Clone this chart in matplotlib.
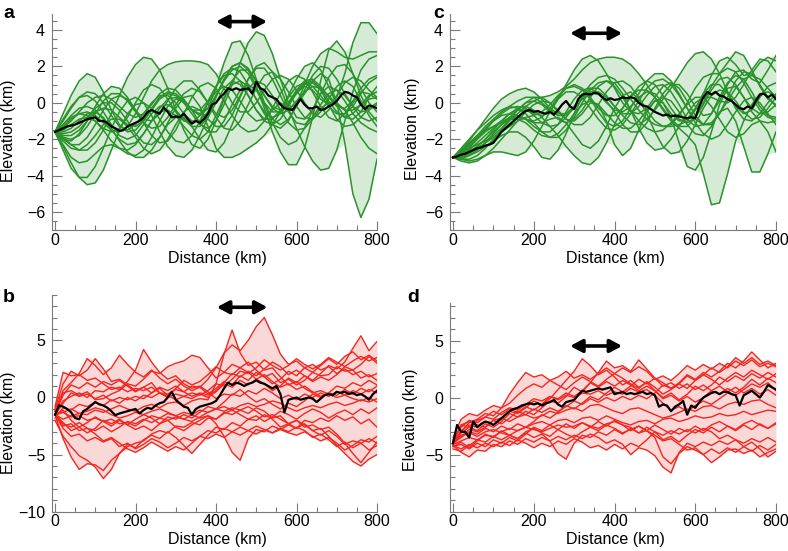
import numpy as np
import matplotlib
matplotlib.use("Agg")
import matplotlib.pyplot as plt
from matplotlib.ticker import MultipleLocator

plt.rcParams['font.family'] = ['Liberation Sans', 'DejaVu Sans']

# distance grids (km)
dist = np.arange(0, 801, 20)
dist_mean = np.arange(0, 801, 10)

# ---- panel a : smooth realisations (green) ----
green_a = [
    [-1.6, -0.6, 0.4, 1.2, 1.6, 1.4, 0.6, -0.4, -1.2, -1.6, -1.5, -1.0, -0.3, 0.3, 0.6, 0.5, 0.1, -0.4, -0.6, -0.3, 0.4, 1.2, 1.8, 2.0, 1.6, 0.8, 0.0, -0.5, -0.5, 0.0, 0.7, 1.2, 1.3, 0.9, 0.3, -0.2, -0.3, 0.1, 0.8, 1.3, 1.5],
    [-1.6, -2.4, -3.3, -4.1, -4.5, -4.4, -3.7, -2.6, -1.5, -0.6, -0.1, 0.0, -0.3, -0.9, -1.6, -2.1, -2.2, -1.8, -1.0, 0.0, 0.9, 1.5, 1.6, 1.2, 0.4, -0.4, -1.0, -1.2, -0.9, -0.2, 0.6, 1.1, 1.2, 0.8, 0.1, -0.5, -0.8, -0.6, -0.1, 0.4, 0.6],
    [-1.6, -2.6, -3.6, -4.1, -4.1, -3.5, -2.5, -1.4, -0.5, 0.1, 0.3, 0.0, -0.7, -1.6, -2.4, -2.9, -3.0, -2.6, -1.8, -0.8, 0.3, 1.3, 2.0, 2.2, 1.9, 1.2, 0.4, -0.2, -0.4, -0.1, 0.5, 1.0, 1.1, 0.7, -0.1, -0.9, -1.3, -1.2, -0.8, -0.3, 0.0],
    [-1.6, -1.9, -2.3, -2.6, -2.6, -2.2, -1.5, -0.6, 0.4, 1.4, 2.1, 2.5, 2.4, 1.8, 0.8, -0.4, -1.5, -2.3, -2.5, -2.0, -1.0, 0.2, 1.2, 1.8, 1.8, 1.2, 0.4, -0.3, -0.6, -0.4, 0.1, 0.6, 0.9, 0.8, 0.4, -0.1, -0.4, -0.4, -0.1, 0.2, 0.3],
    [-1.6, -1.3, -0.9, -0.6, -0.5, -0.7, -1.1, -1.5, -1.6, -1.3, -0.6, 0.3, 1.2, 1.8, 2.1, 2.25, 2.3, 2.3, 2.25, 2.1, 1.6, 0.8, 0.0, -0.5, -0.5, 0.0, 0.7, 1.3, 1.5, 1.3, 0.7, 0.0, -0.6, -0.8, -0.4, 0.4, 1.1, 1.4, 1.2, 0.7, 0.3],
    [-1.6, -1.7, -1.6, -1.3, -0.8, -0.3, 0.0, 0.0, -0.4, -1.0, -1.7, -2.2, -2.3, -1.9, -1.1, -0.3, 0.3, 0.4, -0.2, -1.3, -2.5, -3.0, -3.0, -2.8, -2.5, -2.2, -1.8, -1.2, -0.5, 0.3, 0.9, 1.1, 0.9, 0.4, -0.2, -0.6, -0.6, -0.2, 0.5, 1.1, 1.4],
    [-1.6, -1.2, -0.7, -0.3, -0.2, -0.4, -0.9, -1.5, -2.0, -2.3, -2.2, -1.7, -1.0, -0.3, 0.2, 0.3, 0.0, -0.6, -1.2, -1.4, -1.0, -0.1, 1.0, 2.2, 3.3, 3.9, 3.7, 2.7, 1.3, 0.0, -0.8, -0.9, -0.4, 0.5, 1.4, 2.0, 2.1, 1.6, 0.8, 0.0, -0.5],
    [-1.6, -1.4, -1.0, -0.5, 0.0, 0.3, 0.4, 0.2, -0.2, -0.6, -0.8, -0.6, -0.1, 0.5, 0.8, 0.7, 0.2, -0.4, -0.7, -0.3, 0.8, 2.2, 3.3, 3.4, 2.6, 1.3, 0.0, -0.9, -1.2, -0.9, -0.2, 0.7, 1.5, 2.0, 1.9, 1.3, 0.5, -0.2, -0.5, -0.4, -0.1],
    [-1.6, -2.0, -2.3, -2.3, -1.9, -1.2, -0.4, 0.2, 0.4, 0.2, -0.4, -1.1, -1.8, -2.2, -2.1, -1.5, -0.6, 0.3, 0.9, 1.1, 0.8, 0.1, -0.7, -1.3, -1.6, -1.5, -1.0, -0.4, 0.0, -0.3, -0.1, 0.5, 1.2, 1.6, 1.3, 0.0, -2.2, -5.0, -6.3, -5.3, -3.1],
    [-1.6, -1.8, -1.8, -1.5, -1.0, -0.5, -0.3, -0.4, -0.8, -1.2, -1.3, -1.0, -0.4, 0.2, 0.5, 0.4, 0.0, -0.4, -0.4, 0.1, 0.9, 1.6, 1.9, 1.7, 1.0, 0.2, -0.5, -0.8, -0.6, 0.0, 0.6, 0.9, 0.7, 0.2, -0.1, 0.3, 1.6, 3.3, 4.4, 4.4, 3.8],
    [-1.6, -1.0, -0.3, 0.3, 0.6, 0.5, 0.0, -0.7, -1.3, -1.5, -1.2, -0.6, 0.0, 0.4, 0.4, 0.0, -0.6, -1.0, -1.0, -0.5, 0.4, 1.3, 2.0, 2.2, 1.8, 0.9, -0.3, -1.6, -2.7, -3.4, -3.4, -2.5, -0.8, 1.2, 2.9, 3.4, 2.8, 1.6, 0.4, -0.5, -1.0],
    [-1.6, -2.1, -2.5, -2.6, -2.3, -1.8, -1.2, -0.9, -0.9, -1.3, -1.9, -2.5, -2.8, -2.6, -2.0, -1.2, -0.5, -0.2, -0.4, -0.9, -1.3, -1.3, -0.7, 0.3, 1.3, 2.0, 2.2, 1.7, 0.8, -0.3, -1.4, -2.4, -3.2, -3.7, -3.6, -2.6, -1.0, 0.6, 1.8, 2.4, 2.6],
    [-1.6, -1.5, -1.2, -0.9, -0.8, -1.0, -1.5, -2.1, -2.5, -2.6, -2.3, -1.7, -1.0, -0.5, -0.4, -0.7, -1.3, -1.8, -2.0, -1.6, -0.7, 0.3, 1.0, 1.2, 0.9, 0.2, -0.6, -1.2, -1.4, -1.0, -0.1, 1.0, 2.0, 2.7, 3.0, 2.8, 2.5, 2.4, 2.6, 2.8, 2.8],
    [-1.6, -1.9, -2.0, -1.8, -1.3, -0.6, 0.1, 0.5, 0.5, 0.1, -0.5, -1.1, -1.4, -1.3, -0.8, -0.1, 0.5, 0.8, 0.6, 0.0, -0.8, -1.4, -1.5, -1.0, -0.1, 0.8, 1.5, 1.7, 1.3, 0.6, -0.2, -0.8, -0.9, -0.5, 0.2, 0.9, 1.2, 0.9, 0.1, -0.7, -1.3],
    [-1.6, -2.3, -3.0, -3.3, -3.2, -2.8, -2.4, -2.3, -2.5, -2.8, -2.9, -2.6, -1.9, -1.0, -0.2, 0.2, 0.1, -0.4, -1.1, -1.6, -1.6, -1.0, -0.1, 0.7, 1.0, 0.7, -0.1, -1.1, -1.9, -2.3, -2.1, -1.4, -0.4, 0.5, 0.9, 0.7, 0.1, -0.6, -1.1, -1.4, -1.6],
    [-1.6, -0.9, -0.2, 0.3, 0.4, 0.1, -0.5, -1.2, -1.8, -2.0, -1.8, -1.2, -0.6, -0.2, -0.1, -0.4, -0.9, -1.3, -1.3, -0.8, 0.0, 0.8, 1.2, 1.0, 0.4, -0.4, -0.9, -0.9, -0.4, 0.4, 1.3, 2.0, 2.2, 1.8, 0.9, -0.1, -0.8, -0.9, -0.5, 0.3, 0.9],
    [-1.6, -1.6, -1.4, -1.0, -0.6, -0.5, -0.8, -1.4, -2.1, -2.7, -3.0, -3.0, -2.6, -1.9, -1.2, -0.8, -0.8, -1.3, -2.0, -2.6, -2.7, -2.2, -1.2, -0.1, 0.8, 1.2, 1.0, 0.4, -0.4, -1.1, -1.5, -1.4, -0.9, -0.3, 0.0, 0.0, -0.4, -1.1, -1.9, -2.5, -2.8],
    [-1.6, -1.2, -0.8, -0.6, -0.7, -1.0, -1.4, -1.6, -1.4, -0.8, 0.0, 0.7, 1.0, 0.8, 0.2, -0.5, -1.0, -1.1, -0.7, 0.0, 0.6, 0.9, 0.7, 0.1, -0.6, -1.0, -0.9, -0.3, 0.5, 1.2, 1.5, 1.3, 0.6, -0.2, -0.8, -1.0, -0.6, 0.0, 0.6, 0.5, 0.2],
    [-1.6, -2.0, -2.1, -1.7, -1.0, -0.2, 0.5, 0.9, 0.8, 0.3, -0.4, -0.9, -1.0, -0.6, 0.1, 0.8, 1.2, 1.2, 0.7, 0.0, -0.6, -0.8, -0.4, 0.4, 1.3, 1.9, 1.9, 1.3, 0.4, -0.5, -1.1, -1.2, -0.8, -0.1, 0.5, 0.7, 0.4, -0.2, -0.8, -1.0, -0.8],
]
mean_a = [-1.6, -1.5, -1.4, -1.3, -1.25, -1.2, -1.1, -1.0, -0.9, -0.85, -0.8, -1.0, -1.0, -1.1, -1.3, -1.4, -1.55, -1.5, -1.3, -1.2,
          -1.1, -1.0, -0.8, -0.5, -0.4, -0.5, -0.6, -0.25, -0.5, -0.8, -0.75, -0.8, -0.6, -0.9, -1.15, -1.0, -1.1, -0.9, -0.6, -0.1,
          0.0, 0.3, 0.5, 0.8, 0.7, 0.8, 0.7, 0.75, 0.8, 0.5, 1.15, 0.8, 0.7, 0.4, 0.3, 0.2, -0.1, -0.3, -0.35, -0.4,
          -0.1, 0.2, -0.1, -0.3, -0.3, -0.2, -0.4, -0.35, -0.2, -0.1, 0.1, 0.4, 0.6, 0.55, 0.4, 0.3, -0.1, -0.35, -0.15, -0.2, -0.3]

# ---- panel c : smooth realisations (green) ----
green_c = [
    [-3.0, -2.9, -2.7, -2.4, -2.0, -1.5, -1.0, -0.6, -0.4, -0.4, -0.6, -0.7, -0.5, 0.2, 1.0, 1.8, 2.4, 2.6, 2.3, 1.6, 0.8, 0.0, -0.5, -0.6, -0.3, 0.3, 0.9, 1.1, 0.8, 0.1, -0.7, -1.2, -1.2, -0.6, 0.3, 1.2, 1.7, 1.6, 1.0, 0.3, -0.2],
    [-3.0, -3.1, -3.1, -2.9, -2.5, -2.0, -1.5, -1.0, -0.6, -0.2, 0.1, 0.3, 0.4, 0.6, 0.9, 1.3, 1.8, 2.2, 2.4, 2.5, 2.5, 2.4, 2.1, 1.6, 1.0, 0.3, -0.4, -1.0, -1.4, -1.8, -2.3, -3.9, -5.6, -5.5, -3.9, -2.1, -1.0, -0.1, 0.5, 0.6, 0.4],
    [-3.0, -2.8, -2.5, -2.0, -1.5, -1.0, -0.6, -0.3, -0.2, -0.3, -0.7, -1.1, -1.3, -1.2, -0.8, -0.2, 0.3, 0.6, 0.6, 0.3, -0.2, -0.7, -1.1, -1.2, -0.9, -0.4, 0.2, 0.8, 1.5, 2.2, 2.7, 2.8, 2.4, 1.6, 0.6, -0.3, -0.9, -1.0, -0.6, 0.0, 0.5],
    [-3.0, -3.2, -3.3, -3.2, -2.9, -2.5, -2.0, -1.5, -1.0, -0.5, -0.1, 0.1, 0.0, -0.4, -0.9, -1.2, -1.2, -0.8, -0.1, 0.6, 1.1, 1.2, 0.9, 0.3, -0.4, -1.0, -1.3, -1.2, -0.7, 0.0, 0.8, 1.4, 1.6, 1.6, 2.2, 2.8, 2.6, 1.8, 0.9, 0.2, -0.1],
    [-3.0, -2.7, -2.3, -1.8, -1.3, -0.9, -0.5, -0.2, 0.1, 0.3, 0.3, 0.0, -0.4, -0.7, -0.7, -0.3, 0.2, 0.5, 0.5, 0.1, -0.5, -1.2, -1.6, -1.6, -1.1, -0.3, 0.5, 1.0, 1.0, 0.5, -0.2, -0.7, -0.6, 0.1, 1.0, 1.7, 1.8, 1.3, 1.1, 1.8, 2.6],
    [-3.0, -3.0, -2.9, -2.7, -2.4, -2.1, -1.8, -1.6, -1.6, -1.9, -2.4, -3.0, -3.1, -2.6, -1.7, -0.6, 0.3, 0.8, 0.8, 0.4, -0.2, -0.6, -0.6, -0.2, 0.4, 0.9, 1.0, 0.6, -0.1, -0.9, -1.3, -1.2, -0.6, 0.3, 1.1, 1.5, 1.3, 0.6, -0.2, -0.7, -0.8],
    [-3.0, -2.9, -2.6, -2.2, -1.8, -1.4, -1.0, -0.6, -0.3, -0.2, -0.4, -0.8, -1.3, -1.8, -2.4, -2.9, -3.3, -3.4, -3.0, -2.2, -1.2, -0.3, 0.4, 0.7, 0.7, 0.3, -0.3, -0.9, -1.3, -1.3, -0.8, 0.0, 0.9, 1.6, 1.9, 1.7, 1.1, 0.3, -0.4, -0.8, -0.9],
    [-3.0, -2.6, -2.2, -1.8, -1.5, -1.3, -1.1, -0.8, -0.4, 0.0, 0.3, 0.3, 0.0, -0.5, -0.9, -1.0, -0.6, 0.0, -0.1, -1.0, -2.3, -2.9, -2.5, -1.5, -0.5, 0.1, 0.0, -0.8, -2.2, -3.5, -3.7, -3.0, -1.6, -0.1, 0.8, 0.9, 0.3, -0.5, -1.0, -1.1, -1.0],
    [-3.0, -2.8, -2.4, -2.0, -1.6, -1.3, -1.0, -0.9, -0.9, -1.1, -1.5, -1.8, -1.9, -1.7, -1.2, -0.6, -0.1, 0.1, -0.1, -0.6, -1.1, -1.4, -1.4, -1.0, -0.4, 0.1, 0.3, 0.1, -0.5, -1.2, -1.7, -1.8, -1.3, -0.5, -0.3, -1.0, -2.4, -3.8, -3.8, -2.8, -1.6],
    [-3.0, -2.5, -2.0, -1.5, -1.1, -0.7, -0.4, -0.2, -0.3, -0.6, -1.1, -1.6, -1.9, -1.9, -1.5, -0.8, 0.0, 0.7, 1.1, 1.2, 0.9, 0.3, -0.4, -1.0, -1.4, -1.6, -1.5, -1.1, -0.6, -0.1, 0.3, 0.3, -0.2, -0.9, -1.6, -1.9, -1.7, -1.2, -1.0, -1.6, -2.7],
    [-3.0, -3.1, -3.2, -3.1, -2.9, -2.7, -2.7, -2.8, -2.9, -2.7, -2.1, -1.3, -0.5, 0.2, 0.6, 0.6, 0.3, -0.3, -0.9, -1.4, -1.5, -1.2, -0.6, 0.1, 0.8, 1.2, 1.3, 1.0, 0.4, -0.3, -0.9, -1.2, -1.1, -0.6, 0.1, 0.8, 1.3, 1.5, 1.3, 0.8, 0.3],
    [-3.0, -2.6, -2.1, -1.5, -0.9, -0.3, 0.2, 0.5, 0.7, 0.8, 0.6, 0.2, -0.3, -0.6, -0.6, -0.2, 0.4, 1.0, 1.4, 1.5, 1.3, 0.8, 0.2, -0.4, -0.9, -1.2, -1.3, -1.3, -1.2, -1.0, -0.4, 0.5, 1.5, 2.3, 2.5, 2.1, 1.5, 1.6, 2.2, 2.5, 2.3],
    [-3.0, -3.0, -2.8, -2.5, -2.2, -1.9, -1.6, -1.3, -1.0, -0.8, -0.7, -0.5, -0.1, 0.4, 0.8, 0.9, 0.7, 0.2, -0.5, -1.1, -1.3, -1.0, -0.3, 0.5, 1.2, 1.6, 1.6, 1.2, 0.5, -0.3, -1.1, -1.7, -2.0, -1.8, -1.2, -0.5, 0.1, 0.3, 0.0, -0.6, -1.2],
    [-3.0, -2.9, -2.7, -2.4, -2.0, -1.6, -1.2, -0.9, -0.8, -0.9, -1.1, -1.1, -0.9, -0.8, -1.1, -1.7, -2.3, -2.5, -2.1, -1.3, -0.3, 0.4, 0.6, 0.2, -0.6, -1.6, -2.4, -2.8, -2.7, -2.1, -1.2, -0.3, 0.4, 0.7, 0.6, 0.1, -0.5, -0.9, -0.8, -0.3, 0.3],
    [-3.0, -2.8, -2.5, -2.3, -2.1, -1.8, -1.4, -0.9, -0.4, 0.0, 0.1, -0.1, -0.5, -0.9, -1.1, -0.9, -0.4, 0.3, 0.9, 1.2, 1.1, 0.5, -0.4, -1.4, -2.2, -2.6, -2.5, -2.0, -1.3, -0.6, 0.0, 0.3, 0.3, 0.1, 0.0, 0.3, 1.0, 1.8, 2.4, 2.3, 1.7],
    [-3.0, -2.7, -2.3, -1.9, -1.4, -1.0, -0.7, -0.6, -0.7, -0.9, -1.0, -0.8, -0.3, 0.3, 0.8, 1.0, 0.8, 0.3, -0.3, -0.7, -0.7, -0.3, 0.3, 0.9, 1.2, 1.0, 0.4, -0.3, -0.9, -1.1, -0.8, -0.1, 0.7, 1.3, 1.4, 1.0, 0.3, -0.3, -0.6, -0.5, -0.1],
    [-3.0, -3.1, -2.9, -2.6, -2.2, -1.7, -1.2, -0.8, -0.7, -0.9, -1.3, -1.6, -1.6, -1.2, -0.5, 0.2, 0.7, 0.8, 0.5, 0.0, -0.4, -0.5, -0.2, 0.3, 0.6, 0.5, 0.0, -0.6, -1.0, -0.9, -0.3, 0.5, 1.0, 1.0, 0.5, -0.2, -0.6, -0.4, 0.3, 0.9, 1.1],
]
mean_c = [-3.0, -2.95, -2.85, -2.8, -2.7, -2.6, -2.5, -2.45, -2.35, -2.3, -2.2, -1.9, -1.6, -1.4, -1.2, -1.0, -0.8, -0.6, -0.45, -0.4,
          -0.5, -0.45, -0.55, -0.6, -0.5, -0.65, -0.4, -0.1, 0.1, -0.2, -0.35, 0.2, 0.45, 0.5, 0.45, 0.55, 0.5, 0.3, 0.15, 0.25,
          0.15, 0.2, 0.3, 0.25, 0.3, 0.25, 0.0, -0.15, -0.2, -0.35, -0.5, -0.6, -0.7, -0.65, -0.75, -0.7, -0.75, -0.8, -0.85, -0.8,
          -0.85, -0.2, 0.3, 0.6, 0.45, 0.6, 0.4, 0.35, 0.2, 0.1, -0.1, -0.3, -0.35, -0.2, -0.3, 0.1, 0.45, 0.5, 0.3, 0.45, 0.2]

# ---- panel b : rough realisations (red) ----
red_b = [
    [-1.0, 1.2, 2.3, 1.9, 2.4, 3.4, 2.5, 1.4, 1.6, 1.1, 0.6, 0.9, 1.3, 0.4, 0.1, 0.8, 1.5, 1.1, 1.4, 2.0, 2.7, 2.2, 2.9, 2.6, 3.1, 2.4, 1.8, 2.1, 1.3, 1.6, 1.1, 1.5, 2.2, 1.9, 2.0, 2.7, 2.3, 2.4, 1.7, 2.0, 1.5],
    [-1.5, -3.6, -5.2, -6.3, -5.8, -5.9, -6.4, -5.5, -4.9, -4.3, -4.0, -3.8, -3.2, -2.9, -3.1, -2.5, -2.6, -2.2, -2.4, -1.8, -1.9, -1.3, -1.5, -1.1, -1.4, -0.9, -1.2, -1.8, -1.6, -2.3, -2.0, -2.6, -2.4, -2.8, -2.6, -3.2, -4.0, -4.9, -5.7, -4.8, -3.9],
    [-2.0, -3.4, -4.3, -5.1, -5.5, -6.1, -7.1, -6.3, -4.9, -4.1, -4.4, -3.7, -3.3, -3.6, -3.0, -3.5, -4.2, -4.9, -4.1, -3.3, -2.6, -2.8, -2.2, -2.5, -1.9, -2.0, -1.5, -1.9, -2.6, -2.3, -2.7, -2.0, -2.2, -1.8, -2.1, -1.6, -2.0, -1.7, -2.3, -1.9, -2.6],
    [-1.5, -0.3, 0.1, 0.4, 0.0, 0.6, 0.5, 0.9, 0.7, 1.4, 2.4, 4.2, 3.1, 2.2, 1.6, 1.9, 1.2, 0.8, 1.0, 0.5, -0.1, 0.3, 0.2, 0.7, 0.1, -0.4, -0.1, -0.6, -1.0, -0.5, -0.8, -0.3, 0.3, 0.0, 0.4, 1.0, 0.8, 1.3, 1.0, 1.5, 1.1],
    [-1.2, 0.4, 0.6, 0.2, 0.5, -0.2, -0.1, 0.3, 0.6, 1.2, 1.0, 1.6, 2.3, 2.1, 2.7, 3.0, 3.2, 3.7, 3.5, 2.6, 1.7, 2.2, 2.0, 2.6, 2.2, 1.6, 2.0, 1.4, 0.9, 1.2, 0.7, 1.0, 0.5, 0.1, 0.4, 0.2, 0.7, 0.3, 0.8, 0.5, 1.0],
    [-1.8, -0.9, -1.1, -0.6, -0.8, -0.4, -0.7, -0.2, -0.5, 0.0, -0.3, 0.2, 0.0, 0.4, 0.3, 0.7, 0.5, 1.0, 0.9, 1.6, 2.6, 3.9, 4.6, 4.1, 5.0, 6.2, 7.0, 5.5, 3.8, 2.9, 3.2, 2.6, 2.9, 2.4, 2.7, 2.1, 2.5, 2.0, 2.3, 1.8, 2.1],
    [-1.5, -1.9, -1.6, -1.4, -1.5, -1.1, -1.3, -1.0, -0.7, -1.0, -1.2, -0.8, -0.6, -0.9, -0.5, -0.4, -0.7, -0.3, -0.1, -0.2, 1.2, 3.8, 5.9, 3.9, 2.8, 3.1, 2.4, 2.6, 1.8, 1.1, 1.4, 0.8, 0.4, 0.6, 0.3, 0.0, 0.2, -0.1, -0.3, 0.0, -0.4],
    [-1.5, -2.3, -2.6, -2.2, -2.7, -2.9, -2.5, -3.0, -2.6, -2.1, -2.3, -1.9, -2.2, -1.8, -2.0, -1.7, -1.9, -1.5, -1.8, -1.6, -2.3, -3.4, -4.8, -5.5, -3.6, -2.8, -3.0, -2.5, -2.8, -2.4, -2.7, -2.3, -2.9, -3.3, -2.9, -3.4, -4.1, -3.8, -4.0, -3.6, -4.0],
    [-1.5, -1.3, -1.7, -1.6, -2.0, -1.8, -2.1, -1.9, -2.3, -2.2, -2.5, -2.0, -1.6, -1.8, -1.4, -1.6, -1.3, -1.5, -1.1, -1.3, -1.0, -1.2, -0.9, -1.1, -0.8, -1.2, -1.7, -1.5, -1.9, -2.3, -2.0, -2.4, -2.9, -2.7, -3.4, -4.2, -4.9, -5.6, -6.0, -5.4, -5.0],
    [-1.5, 0.2, 1.1, 0.8, 1.3, 0.9, 1.4, 1.1, 1.5, 1.0, 0.5, 0.9, 0.4, 0.8, 0.2, -0.2, 0.1, -0.1, 0.3, 0.0, 0.5, 1.2, 0.9, 1.5, 1.1, 1.6, 1.2, 0.6, 1.0, 1.7, 1.3, 1.9, 1.5, 2.1, 2.8, 2.5, 3.1, 4.3, 5.4, 4.1, 4.9],
    [-1.5, -2.7, -3.4, -3.2, -3.8, -3.5, -3.9, -3.6, -4.3, -4.0, -4.5, -4.1, -3.6, -3.9, -4.4, -4.0, -3.5, -3.8, -3.4, -2.9, -3.1, -2.7, -3.0, -2.6, -2.9, -2.5, -2.8, -3.1, -2.8, -3.1, -3.3, -3.0, -3.4, -3.8, -3.5, -4.0, -4.6, -4.2, -3.7, -3.9, -3.4],
    [-1.5, -0.5, 0.4, 0.1, 0.3, -0.1, 0.2, -0.3, 0.0, -0.2, 0.1, -0.1, 0.4, 0.9, 0.6, 1.0, 0.5, 0.1, 0.4, 0.2, 0.6, 1.3, 2.1, 1.8, 2.3, 1.9, 2.5, 3.1, 2.7, 2.0, 2.4, 1.9, 1.4, 1.8, 1.5, 2.0, 2.7, 2.4, 2.9, 3.6, 3.0],
    [-1.5, -1.3, -1.0, -1.4, -1.2, -0.9, -1.1, -1.5, -1.8, -1.6, -1.3, -1.5, -1.2, -1.0, -1.3, -1.6, -1.9, -2.1, -1.7, -1.3, -1.0, -0.8, -1.1, -0.7, -0.5, -0.8, -0.6, -0.3, -0.5, -0.9, -1.2, -0.9, -0.7, -0.9, -0.6, -0.4, -0.7, -0.5, -0.2, -0.4, -0.1],
    [-1.5, -2.2, -2.9, -2.6, -3.1, -2.7, -2.0, -2.3, -1.9, -2.4, -2.8, -2.5, -2.9, -2.3, -1.7, -1.9, -1.5, -1.8, -1.3, -0.8, -1.0, -0.4, 0.3, 0.1, 0.6, 0.3, 0.8, 0.4, -0.1, 0.2, -0.2, 0.3, 0.0, 0.4, 0.1, 0.5, 0.2, 0.6, 0.3, 0.7, 0.4],
    [-0.8, 2.2, 1.9, 2.0, 1.5, 1.7, 1.2, 0.7, 0.9, 0.5, 0.8, 0.6, 0.9, 0.4, 0.0, 0.3, 0.1, 0.4, 0.2, 0.6, 1.2, 1.0, 1.6, 2.3, 2.1, 2.6, 3.3, 2.8, 2.4, 2.8, 3.4, 2.9, 2.5, 2.9, 3.5, 3.1, 2.7, 3.2, 3.6, 3.2, 3.5],
    [-1.5, -2.5, -2.3, -2.9, -2.7, -3.2, -3.8, -3.5, -4.0, -4.5, -4.8, -4.4, -3.9, -4.3, -4.7, -4.3, -4.6, -4.0, -3.4, -3.6, -3.2, -3.5, -3.0, -3.3, -2.9, -3.2, -2.8, -3.1, -2.7, -3.0, -2.6, -2.9, -3.5, -3.2, -3.7, -4.3, -3.9, -4.4, -4.0, -4.6, -4.2],
    [-1.2, 0.6, 1.3, 2.1, 3.4, 2.8, 2.0, 2.6, 3.7, 2.9, 2.2, 1.8, 2.4, 1.7, 1.2, 1.6, 1.0, 0.6, 0.9, 0.3, 0.8, 1.4, 1.1, 1.9, 1.5, 2.2, 1.8, 1.2, 1.6, 2.3, 1.9, 2.6, 2.2, 2.8, 3.4, 2.9, 3.6, 4.0, 3.3, 3.7, 3.2],
    [-1.5, -1.1, -2.0, -2.6, -2.2, -1.7, -2.1, -2.5, -2.0, -2.4, -1.9, -1.5, -1.8, -2.3, -2.0, -2.6, -2.9, -2.4, -2.0, -1.6, -1.9, -1.4, -1.1, -1.5, -1.9, -1.6, -2.1, -1.7, -1.2, -1.5, -1.9, -1.4, -1.0, -1.3, -1.8, -1.4, -1.1, -1.5, -1.0, -1.4, -0.9],
]
mean_b = [-1.5, -0.7, -0.8, -1.0, -1.3, -1.8, -1.9, -1.2, -1.0, -0.7, -0.4, -0.6, -0.7, -0.9, -1.2, -1.55, -1.4, -1.3, -1.2, -1.1,
          -1.0, -1.4, -1.1, -0.9, -1.0, -0.7, -0.5, -0.4, 0.0, 0.5, -0.2, -0.5, -0.8, -0.9, -1.5, -1.0, -0.8, -0.7, -0.6, -0.5,
          -0.3, 0.2, 0.8, 1.3, 1.1, 1.3, 1.2, 1.0, 1.2, 1.3, 1.5, 1.3, 1.2, 1.0, 0.8, 1.0, 0.3, -1.3, -0.2, -0.1,
          0.0, -0.2, -0.1, 0.0, -0.1, -0.4, -0.1, 0.2, 0.3, 0.2, 0.5, 0.4, 0.5, 0.3, 0.4, 0.2, 0.3, 0.1, -0.2, 0.3, 0.6]

# ---- panel d : rough realisations (red) ----
red_d = [
    [-3.5, -1.9, -1.4, -1.6, -1.1, -0.7, -0.9, 0.3, 1.3, 2.2, 1.8, 2.0, 1.5, 1.8, 2.3, 1.7, 2.0, 1.6, 2.1, 2.6, 2.1, 2.6, 2.2, 2.7, 2.3, 1.6, 1.9, 1.5, 2.1, 2.8, 2.4, 2.9, 2.5, 3.0, 2.6, 3.2, 2.8, 3.3, 2.7, 3.0, 2.7],
    [-4.0, -2.9, -2.4, -2.6, -2.1, -2.4, -1.9, -1.2, -1.4, -0.9, -0.3, -0.6, -0.1, 0.7, 1.5, 2.3, 3.4, 2.8, 2.0, 2.4, 1.8, 1.1, 1.5, 0.9, 1.3, 0.6, 0.0, 0.4, -0.2, 0.3, 1.0, 0.6, 1.1, 1.8, 1.4, 1.9, 1.5, 2.1, 1.7, 2.2, 1.8],
    [-4.0, -3.1, -2.6, -2.9, -2.3, -2.6, -2.1, -1.4, -1.7, -1.2, -1.5, -0.9, -0.3, -0.5, 0.1, 0.9, 0.5, 1.3, 2.2, 3.2, 2.6, 2.8, 2.3, 3.3, 2.5, 1.7, 1.0, 1.3, 0.8, 1.2, 0.7, 1.1, 0.6, 1.0, 0.5, 0.9, 0.4, 0.8, 0.3, 0.7, 0.2],
    [-4.5, -4.7, -4.2, -3.7, -3.9, -3.4, -3.7, -3.3, -3.6, -3.1, -3.5, -3.2, -3.8, -4.9, -5.4, -4.0, -3.3, -3.5, -3.0, -3.3, -2.8, -3.2, -2.7, -3.1, -2.6, -3.0, -3.7, -3.4, -3.9, -3.3, -2.8, -3.1, -2.6, -3.0, -2.5, -2.9, -2.4, -2.8, -2.3, -2.7, -2.2],
    [-4.2, -4.8, -5.2, -4.6, -4.7, -4.1, -4.3, -3.8, -4.1, -3.6, -3.9, -3.5, -3.8, -3.4, -3.7, -3.3, -3.6, -3.2, -3.5, -4.0, -3.7, -4.1, -5.0, -4.4, -4.6, -5.1, -6.1, -6.6, -4.8, -4.0, -4.3, -3.9, -4.2, -3.8, -4.1, -3.7, -4.0, -3.6, -3.9, -3.5, -3.9],
    [-3.8, -3.3, -3.1, -3.4, -3.0, -2.8, -3.1, -3.3, -2.9, -2.6, -2.8, -3.0, -2.7, -2.4, -2.6, -2.5, -2.2, -2.5, -2.7, -2.3, -2.1, -2.4, -2.6, -3.1, -2.9, -3.3, -3.8, -3.6, -4.1, -4.6, -4.4, -5.0, -5.7, -5.2, -4.6, -4.5, -4.9, -4.6, -5.2, -4.8, -4.5],
    [-4.0, -3.4, -2.8, -3.0, -2.6, -2.0, -2.3, -1.8, -1.2, -1.5, -1.0, -1.3, -0.9, -1.2, -0.8, -0.3, -0.6, -0.1, -0.4, 0.0, -0.3, 0.1, -0.2, 0.2, -0.1, 0.4, 1.1, 0.8, 1.3, 2.0, 1.6, 2.2, 1.8, 2.3, 3.0, 2.6, 3.2, 4.0, 3.3, 2.6, 3.0],
    [-4.0, -2.4, -2.1, -2.4, -2.6, -2.0, -1.8, -2.1, -1.7, -1.5, -1.8, -1.6, -1.2, -1.4, -1.1, -0.9, -1.2, -0.7, -0.6, -0.9, -1.2, -1.4, -1.0, -0.9, -1.2, -1.5, -1.8, -1.6, -1.3, -1.0, -1.2, -0.8, -0.7, -1.0, -0.6, -0.4, -0.6, -0.3, -0.2, -0.6, -0.9],
    [-4.2, -4.5, -4.1, -4.4, -4.0, -4.3, -3.9, -4.2, -3.7, -4.0, -4.4, -4.0, -4.3, -3.8, -4.1, -3.6, -3.9, -4.4, -4.2, -4.6, -4.1, -4.5, -4.0, -4.3, -3.7, -3.0, -3.3, -2.9, -3.2, -2.8, -3.1, -2.7, -3.0, -3.6, -3.3, -3.7, -4.3, -3.9, -4.5, -5.2, -4.7],
    [-3.7, -2.6, -2.0, -2.2, -1.7, -1.2, -1.5, -1.0, -1.3, -0.8, -1.1, -0.6, 0.1, -0.1, 0.4, 0.1, 0.6, 1.3, 0.9, 1.4, 1.0, 1.5, 1.1, 0.6, 1.0, 0.6, -0.1, 0.2, -0.3, 0.1, -0.4, 0.0, 0.6, 0.3, 0.8, 0.4, 0.9, 1.6, 1.1, 1.7, 1.3],
    [-4.3, -4.1, -4.5, -4.0, -4.3, -3.7, -4.0, -3.5, -3.8, -3.2, -2.6, -2.9, -2.4, -2.8, -2.3, -2.7, -2.2, -2.6, -2.1, -2.5, -2.0, -2.4, -2.9, -2.5, -2.9, -3.5, -5.2, -5.8, -4.9, -4.3, -4.6, -5.0, -4.5, -4.9, -4.4, -4.8, -4.3, -4.7, -4.2, -4.6, -4.1],
    [-4.0, -3.5, -3.0, -3.2, -2.7, -3.0, -2.5, -2.8, -2.3, -2.6, -2.1, -1.5, -1.8, -1.3, -0.7, -1.0, -0.5, 0.1, -0.2, 0.4, 0.9, 0.5, 1.0, 1.6, 1.2, 1.7, 1.3, 0.8, 1.2, 1.9, 1.5, 2.0, 2.6, 2.2, 2.7, 3.5, 3.0, 3.5, 2.9, 3.2, 2.8],
    [-4.1, -3.8, -3.5, -3.7, -3.3, -3.4, -3.0, -2.7, -2.9, -2.6, -2.3, -2.1, -2.4, -2.0, -1.9, -2.2, -1.8, -1.7, -2.0, -1.6, -1.9, -2.2, -2.4, -2.1, -2.0, -2.3, -1.9, -1.8, -2.1, -1.9, -1.6, -1.8, -1.7, -1.4, -1.6, -1.5, -1.2, -1.5, -1.3, -1.1, -1.2],
    [-3.9, -2.4, -2.6, -2.0, -1.7, -1.9, -1.3, -0.9, -1.1, -0.6, -0.1, -0.3, 0.1, -0.2, 0.2, 0.0, 0.4, 0.3, 0.6, 0.2, 0.5, 0.3, 0.8, 0.5, 0.7, 0.2, -0.5, -1.1, -0.8, -1.2, -0.7, -0.3, -0.6, -0.1, 0.4, 0.2, 0.7, 1.2, 0.9, 1.3, 0.6],
    [-4.0, -3.0, -2.2, -1.9, -1.4, -1.6, -0.9, -0.5, 0.2, 0.8, 1.2, 0.9, 1.5, 1.1, 0.7, 1.3, 1.8, 1.4, 1.0, 1.6, 2.1, 1.7, 1.2, 0.8, 1.4, 0.9, 0.3, 0.7, 1.2, 0.8, 1.5, 2.0, 1.6, 1.1, 1.7, 2.2, 1.8, 2.4, 2.0, 1.6, 2.1],
    [-4.3, -3.9, -4.4, -3.8, -3.2, -3.5, -2.9, -3.3, -3.6, -3.0, -2.7, -3.1, -3.4, -2.8, -3.2, -3.5, -3.0, -2.6, -2.9, -2.4, -2.7, -3.1, -2.8, -2.5, -2.9, -2.4, -2.8, -3.2, -2.7, -3.0, -2.5, -2.9, -2.4, -2.1, -2.5, -2.8, -2.3, -2.0, -2.4, -2.7, -2.3],
]
mean_d = [-4.0, -2.4, -3.0, -3.0, -3.5, -2.1, -2.6, -2.3, -2.1, -2.2, -2.4, -2.1, -1.8, -1.5, -1.2, -1.0, -0.9, -0.7, -0.6, -0.5,
          -0.6, -0.5, -0.7, -0.5, -0.4, -0.2, -0.6, -0.8, -0.4, -0.3, -0.2, 0.2, 0.6, 0.5, 0.6, 0.7, 0.8, 0.7, 0.8, 0.9,
          0.3, 0.4, 0.5, 0.3, 0.4, 0.3, 0.4, 0.5, 0.3, 0.4, 0.2, -0.8, -0.6, -0.7, -1.2, -0.8, -0.6, -0.3, -1.5, -0.7,
          -0.9, -0.4, 0.0, 0.2, 0.4, 0.5, 0.3, 0.5, 0.5, 0.3, 0.2, -0.7, 0.2, 0.4, 0.6, 0.3, 0.0, 0.5, 1.1, 0.9, 0.7]

GREEN, GREEN_FILL = '#2a922a', '#d6ebd6'
RED, RED_FILL = '#f3261f', '#fbd8d8'
AX_GREY = '#7a7a7a'
FS = 11.5


def draw_panel(rect, curves, mean, line_col, fill_col, lw, ylim, ymajor, yminor,
               arrow_x, arrow_y, letter, letter_xy, ylab_pos, xlab_y, yticks=None):
    ax = fig.add_axes(rect)
    curves = np.array(curves)
    ax.fill_between(dist, curves.min(axis=0), curves.max(axis=0),
                    color=fill_col, lw=0, zorder=1)
    for c in curves:
        ax.plot(dist, c, color=line_col, lw=lw, zorder=2)
    ax.plot(dist_mean, mean, color='black', lw=1.6, zorder=3)

    ax.set_xlim(-7.5, 800)
    ax.set_ylim(*ylim)
    ax.xaxis.set_major_locator(MultipleLocator(200))
    ax.xaxis.set_minor_locator(MultipleLocator(50))
    if yticks is not None:
        ax.set_yticks(yticks)
    else:
        ax.yaxis.set_major_locator(MultipleLocator(ymajor))
    ax.yaxis.set_minor_locator(MultipleLocator(yminor))

    for s in ('top', 'right'):
        ax.spines[s].set_visible(False)
    for s in ('left', 'bottom'):
        ax.spines[s].set_color(AX_GREY)
        ax.spines[s].set_linewidth(0.8)
    ax.tick_params(which='both', direction='in', color=AX_GREY, width=0.8,
                   labelsize=FS, labelcolor='black')
    ax.tick_params(axis='x', which='major', length=6.5, pad=2)
    ax.tick_params(axis='x', which='minor', length=3.8)
    ax.tick_params(axis='y', which='major', length=7, pad=5)
    ax.tick_params(axis='y', which='minor', length=3.6)

    ax.set_xlabel('Distance (km)', fontsize=FS)
    ax.set_ylabel('Elevation (km)', fontsize=FS)
    ax.xaxis.set_label_coords(0.508, xlab_y)
    ax.yaxis.set_label_coords(*ylab_pos)

    ax.annotate('', xy=(arrow_x[1], arrow_y), xytext=(arrow_x[0], arrow_y),
                arrowprops=dict(arrowstyle='<|-|>,head_length=0.6,head_width=0.32',
                                lw=2.6, color='black', shrinkA=0, shrinkB=0,
                                mutation_scale=12),
                annotation_clip=False, zorder=5)
    fig.text(letter_xy[0], letter_xy[1], letter, fontsize=14, fontweight='bold',
             va='baseline', ha='left')
    return ax


fig = plt.figure(figsize=(7.88, 5.51), dpi=100)
W, H = 788.0, 551.0

draw_panel([52 / W, 1 - 230.2 / H, 325 / W, 216.6 / H], green_a, mean_a, GREEN, GREEN_FILL, 1.1,
           (-7, 4.9), 2, 0.5, (400, 527), 4.46, 'a', (3 / W, 1 - 18 / H),
           (-0.112, 0.46), -0.095)
draw_panel([450 / W, 1 - 230.2 / H, 326 / W, 216.6 / H], green_c, mean_c, GREEN, GREEN_FILL, 1.1,
           (-7, 4.9), 2, 0.5, (290, 419), 3.82, 'c', (433 / W, 1 - 18 / H),
           (-0.092, 0.47), -0.095)
draw_panel([52 / W, 1 - 511.7 / H, 325 / W, 217 / H], red_b, mean_b, RED, RED_FILL, 1.0,
           (-10, 9), 5, 1, (402, 528), 7.9, 'b', (3 / W, 1 - 302 / H),
           (-0.112, 0.41), -0.095)
draw_panel([450 / W, 1 - 511.7 / H, 326 / W, 208.4 / H], red_d, mean_d, RED, RED_FILL, 1.0,
           (-10, 8.26), 5, 1, (290, 419), 4.52, 'd', (407 / W, 1 - 302 / H),
           (-0.098, 0.44), -0.099, yticks=[-5, 0, 5])

fig.savefig('out.png', dpi=100)
